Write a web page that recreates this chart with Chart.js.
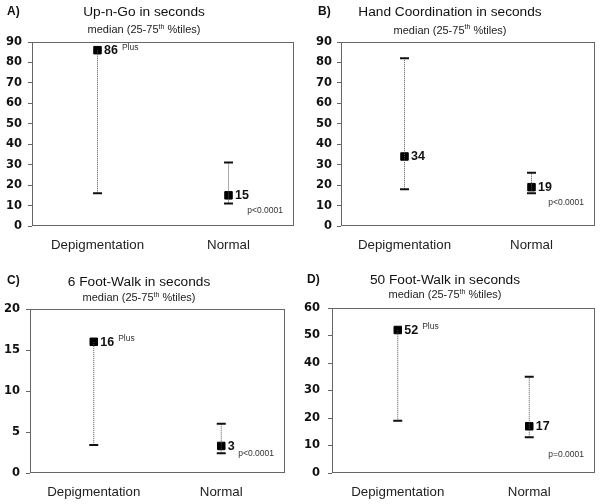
<!DOCTYPE html>
<html><head><meta charset="utf-8">
<script src="https://cdn.jsdelivr.net/npm/chart.js@4/dist/chart.umd.min.js"></script>
<style>
html,body{margin:0;padding:0;background:#fff;}
#wrap{position:relative;width:602px;height:504px;overflow:hidden;}
.p{position:absolute;width:301px;height:252px;}
canvas{display:block;}
</style></head><body>
<div id="wrap">
<div class="p" style="left:0;top:0"><canvas id="cA" width="301" height="252"></canvas></div>
<div class="p" style="left:301px;top:0"><canvas id="cB" width="301" height="252"></canvas></div>
<div class="p" style="left:0;top:252px"><canvas id="cC" width="301" height="252"></canvas></div>
<div class="p" style="left:301px;top:252px"><canvas id="cD" width="301" height="252"></canvas></div>
</div>
<script>
// ---- data ----
const categories = ['Depigmentation', 'Normal'];

const letters = ['A)', 'B)', 'C)', 'D)'];
const titles = ['Up-n-Go in seconds', 'Hand Coordination in seconds', '6 Foot-Walk in seconds', '50 Foot-Walk in seconds'];
const pValues = ['p<0.0001', 'p<0.0001', 'p<0.0001', 'p=0.0001'];

const medianA = [86, 15];
const lowA = [16, 11];
const highA = [86, 31];
const notesA = ['Plus', ''];

const medianB = [34, 19];
const lowB = [18, 16];
const highB = [82, 26];
const notesB = ['', ''];

const medianC = [16, 3.3];
const lowC = [3.4, 2.4];
const highC = [16, 6];
const notesC = ['Plus', ''];

const medianD = [52, 17];
const lowD = [19, 13];
const highD = [52, 35];
const notesD = ['Plus', ''];

const yMax = [90, 90, 20, 60];
const yStep = [10, 10, 5, 10];

// ---- layout (styles only) ----
const panels = [
  {id:'cA', area:{l:32,t:42,r:294,b:226}, letterX:7, letterY:12, titleX:144, titleY:12, subY:30, tickPad:6, pY:7.5},
  {id:'cB', area:{l:40,t:42,r:294,b:226}, letterX:17, letterY:12, titleX:149, titleY:12, subY:30.5, tickPad:5, pY:11.5},
  {id:'cC', area:{l:30,t:57,r:285,b:221}, letterX:7, letterY:29, titleX:139, titleY:30, subY:46, tickPad:6, pY:2.4},
  {id:'cD', area:{l:31,t:56,r:294,b:221}, letterX:6, letterY:27.5, titleX:144, titleY:28, subY:43, tickPad:8, pY:6.5}
];
const series = [
  {median:medianA, low:lowA, high:highA, notes:notesA},
  {median:medianB, low:lowB, high:highB, notes:notesB},
  {median:medianC, low:lowC, high:highC, notes:notesC},
  {median:medianD, low:lowD, high:highD, notes:notesD}
];

const FONT = '"Liberation Sans", Arial, sans-serif';

panels.forEach((P, k) => {
  const S = series[k];
  const datasets = [];
  categories.forEach((c, i) => {
    const openTop = S.high[i] <= S.median[i];
    datasets.push({
      data: [{x: c, y: S.low[i]}, {x: c, y: S.high[i]}],
      borderColor: '#555',
      borderWidth: 1,
      borderDash: [1, 1],
      pointStyle: 'line',
      pointRadius: [4.5, openTop ? 0 : 4.5],
      pointBorderWidth: 2,
      pointBorderColor: '#111',
      pointBackgroundColor: '#111',
      fill: false
    });
  });
  datasets.push({
    data: categories.map((c, i) => ({x: c, y: S.median[i]})),
    showLine: false,
    pointStyle: 'rect',
    pointRadius: 5.3,
    pointBorderWidth: 1,
    pointBackgroundColor: '#000',
    pointBorderColor: '#000'
  });

  const deco = {
    id: 'deco' + k,
    beforeDatasetsDraw(chart) {
      const ctx = chart.ctx, a = chart.chartArea;
      ctx.save();
      ctx.strokeStyle = '#666';
      ctx.lineWidth = 1;
      ctx.strokeRect(Math.round(a.left) + 0.5, Math.round(a.top) + 0.5, Math.round(a.right - a.left) - 1, Math.round(a.bottom - a.top) - 1);
      ctx.restore();
    },
    afterDatasetsDraw(chart) {
      const ctx = chart.ctx, xs = chart.scales.x, ys = chart.scales.y, a = chart.chartArea;
      ctx.save();
      ctx.textBaseline = 'middle';
      ctx.textAlign = 'left';
      categories.forEach((c, i) => {
        const px = xs.getPixelForValue(i);
        const py = ys.getPixelForValue(S.median[i]);
        const txt = String(Math.round(S.median[i]));
        ctx.font = 'bold 12.5px ' + FONT;
        ctx.fillStyle = '#111';
        ctx.fillText(txt, px + 6.5, py + 0.5);
        const w = ctx.measureText(txt).width;
        if (S.notes[i]) {
          ctx.font = '8.5px ' + FONT;
          ctx.fillStyle = '#333';
          ctx.fillText(S.notes[i], px + 6.5 + w + 4, py - 3);
        }
      });
      ctx.font = '8.5px ' + FONT;
      ctx.fillStyle = '#333';
      ctx.textAlign = 'right';
      ctx.fillText(pValues[k], a.right - 11, ys.getPixelForValue(P.pY));
      ctx.restore();
    },
    afterDraw(chart) {
      const ctx = chart.ctx;
      ctx.save();
      ctx.fillStyle = '#111';
      ctx.textBaseline = 'middle';
      ctx.textAlign = 'left';
      ctx.font = 'bold 12px ' + FONT;
      ctx.fillText(letters[k], P.letterX, P.letterY);
      ctx.textAlign = 'center';
      ctx.font = '13.7px ' + FONT;
      ctx.fillText(titles[k], P.titleX, P.titleY);
      // subtitle with superscript
      const p1 = 'median (25-75', sup = 'th', p2 = ' %tiles)';
      ctx.font = '11px ' + FONT;
      const w1 = ctx.measureText(p1).width, w3 = ctx.measureText(p2).width;
      ctx.font = '7px ' + FONT;
      const w2 = ctx.measureText(sup).width;
      let x0 = P.titleX - (w1 + w2 + w3) / 2;
      ctx.textAlign = 'left';
      ctx.fillStyle = '#222';
      ctx.font = '11px ' + FONT;
      ctx.fillText(p1, x0, P.subY);
      ctx.font = '7px ' + FONT;
      ctx.fillText(sup, x0 + w1, P.subY - 3);
      ctx.font = '11px ' + FONT;
      ctx.fillText(p2, x0 + w1 + w2, P.subY);
      ctx.restore();
    }
  };

  new Chart(document.getElementById(P.id), {
    type: 'line',
    data: {labels: categories, datasets},
    options: {
      responsive: false,
      animation: false,
      events: [],
      layout: {padding: {top: P.area.t, right: 301 - P.area.r, left: 0, bottom: 0}},
      plugins: {legend: {display: false}, tooltip: {enabled: false}, title: {display: false}},
      scales: {
        x: {
          type: 'category',
          offset: true,
          grid: {display: false, drawTicks: false},
          border: {display: false},
          ticks: {padding: 11, color: '#222', font: {family: FONT, size: 13.3}, maxRotation: 0, autoSkip: false},
          afterFit(s) { s.height = 252 - P.area.b; }
        },
        y: {
          min: 0, max: yMax[k],
          grid: {drawOnChartArea: false, drawTicks: true, tickLength: 4, color: '#666'},
          border: {display: false},
          ticks: {stepSize: yStep[k], padding: P.tickPad, color: '#111', font: {family: '"DejaVu Sans", sans-serif', size: 11.5, weight: 'bold'}},
          afterFit(s) { s.width = P.area.l; }
        }
      }
    },
    plugins: [deco]
  });
});
</script>
</body></html>
